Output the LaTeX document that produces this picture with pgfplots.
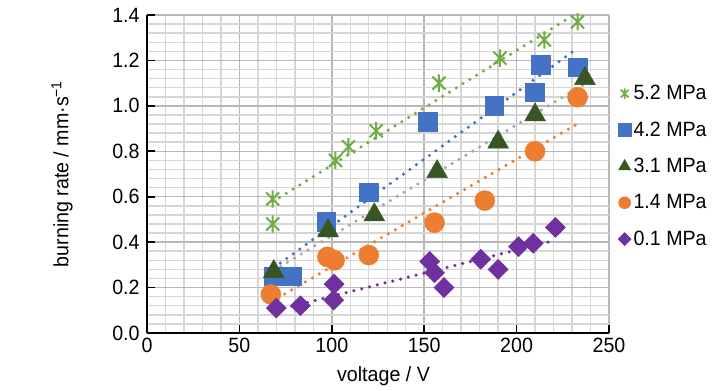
\documentclass[border=0pt]{standalone}
\usepackage{pgfplots}
\pgfplotsset{compat=1.18}
\usepackage{pgfplotstable}
\usepackage{fontspec}
\setmainfont{Liberation Sans}[FakeStretch=0.95]
\definecolor{cA}{HTML}{70AD47}
\definecolor{cB}{HTML}{4472C4}
\definecolor{cC}{HTML}{375623}
\definecolor{cCt}{HTML}{A5A5A5}
\definecolor{cD}{HTML}{ED7D31}
\definecolor{cE}{HTML}{7030A0}

\pgfdeclareplotmark{xstar}{%
  \pgfpathmoveto{\pgfqpoint{0pt}{\pgfplotmarksize}}%
  \pgfpathlineto{\pgfqpoint{0pt}{-\pgfplotmarksize}}%
  \pgfpathmoveto{\pgfqpoint{-0.75\pgfplotmarksize}{0.75\pgfplotmarksize}}%
  \pgfpathlineto{\pgfqpoint{0.75\pgfplotmarksize}{-0.75\pgfplotmarksize}}%
  \pgfpathmoveto{\pgfqpoint{-0.75\pgfplotmarksize}{-0.75\pgfplotmarksize}}%
  \pgfpathlineto{\pgfqpoint{0.75\pgfplotmarksize}{0.75\pgfplotmarksize}}%
  \pgfusepathqstroke}

\pgfplotstableread{
x y
68 0.59
68 0.48
102 0.76
109 0.82
124 0.89
158 1.10
191 1.21
215 1.29
233 1.37
}\dataA
\pgfplotstableread{
x y
68.6 0.25
78.6 0.25
97 0.49
120 0.62
152 0.93
188 1.00
210 1.06
213 1.18
233 1.17
}\dataB
\pgfplotstableread{
x y
68.6 0.27
98 0.45
123 0.52
157 0.71
190 0.84
210 0.96
237 1.12
}\dataC
\pgfplotstableread{
x y
67 0.17
97.6 0.335
101.5 0.32
120 0.343
155.6 0.486
182.8 0.583
210 0.80
233 1.038
}\dataD
\pgfplotstableread{
x y
70 0.11
83 0.12
101 0.145
101.3 0.215
153 0.315
155.6 0.265
160.7 0.20
180.6 0.325
190 0.28
201 0.38
209 0.395
221 0.465
}\dataE

\begin{document}
\begin{tikzpicture}
\begin{axis}[
  scale only axis,
  width=346.5pt, height=238.5pt,
  xmin=0, xmax=250, ymin=0, ymax=1.4,
  xtick={0,50,100,150,200,250},
  ytick={0,0.2,0.4,0.6,0.8,1.0,1.2,1.4},
  minor x tick num=4, minor y tick num=4,
  grid=both,
  major grid style={color=black!28, line width=1.1pt},
  minor grid style={color=black!16, line width=1.1pt},
  axis x line*=bottom, axis y line*=left,
  axis line style={-, black, line width=1.5pt},
  tick align=inside,
  major tick length=6pt, minor tick length=0pt,
  tick style={black, line width=1.2pt},
  xtick pos=bottom, ytick pos=left,
  /pgf/number format/assume math mode=true,
  tick label style={font=\fontsize{15.5}{18}\selectfont},
  y tick label style={xshift=-2pt, /pgf/number format/.cd, fixed, fixed zerofill, precision=1},
  xlabel={voltage / V},
  ylabel={burning rate / mm·s\textsuperscript{−1}},
  every axis x label/.style={at={(axis description cs:0.512,-0.135)}, anchor=center, font=\fontsize{15.5}{18}\selectfont},
  every axis y label/.style={at={(axis description cs:-0.184,0.5)}, rotate=90, anchor=center, font=\fontsize{15.5}{18}\selectfont},
  legend style={at={(axis description cs:1.017,0.524)}, anchor=west, draw=none, fill=none,
    inner sep=0pt, row sep=13pt, font=\fontsize{15.5}{18}\selectfont,
    nodes={inner sep=1pt}},
  legend cell align=left,
  legend image code/.code={\path (-5pt,0pt) (5pt,0pt); \draw[#1] plot coordinates {(0pt,0pt)};},
]
\addlegendimage{only marks, mark=xstar, color=cA, mark size=3.9pt, line width=1.3pt}
\addlegendentry{5.2 MPa}
\addlegendimage{only marks, mark=square*, color=cB, mark size=5pt}
\addlegendentry{4.2 MPa}
\addlegendimage{only marks, mark=triangle*, color=cC, mark size=5.2pt}
\addlegendentry{3.1 MPa}
\addlegendimage{only marks, mark=*, color=cD, mark size=4.5pt}
\addlegendentry{1.4 MPa}
\addlegendimage{only marks, mark=square*, color=cE, mark size=3.45pt, mark options={rotate=45}}
\addlegendentry{0.1 MPa}

\addplot[forget plot, only marks, mark=xstar, color=cA, mark size=6.5pt, line width=1.5pt] table[x=x,y=y] {\dataA};
\addplot[forget plot, only marks, mark=square*, color=cB, mark size=7pt] table[x=x,y=y] {\dataB};
\addplot[forget plot, only marks, mark=triangle*, color=cC, mark size=9pt] table[x=x,y=y] {\dataC};
\addplot[forget plot, only marks, mark=*, color=cD, mark size=7.5pt] table[x=x,y=y] {\dataD};
\addplot[forget plot, only marks, mark=square*, color=cE, mark size=5.3pt, mark options={rotate=45}] table[x=x,y=y] {\dataE};

\pgfplotsset{trend/.style={forget plot, no marks, line width=2.6pt, line cap=round, dash pattern=on 0pt off 6pt}}
\addplot[trend, color=cA] table[x=x, y={create col/linear regression={y=y}}] {\dataA};
\addplot[trend, color=cB] table[x=x, y={create col/linear regression={y=y}}] {\dataB};
\addplot[trend, color=cCt] table[x=x, y={create col/linear regression={y=y}}] {\dataC};
\addplot[trend, color=cD] table[x=x, y={create col/linear regression={y=y}}] {\dataD};
\addplot[trend, color=cE] table[x=x, y={create col/linear regression={y=y}}] {\dataE};
\end{axis}
\path[use as bounding box] (-110.25pt,-42.75pt) rectangle (435.75pt,249.75pt);
\end{tikzpicture}
\end{document}
